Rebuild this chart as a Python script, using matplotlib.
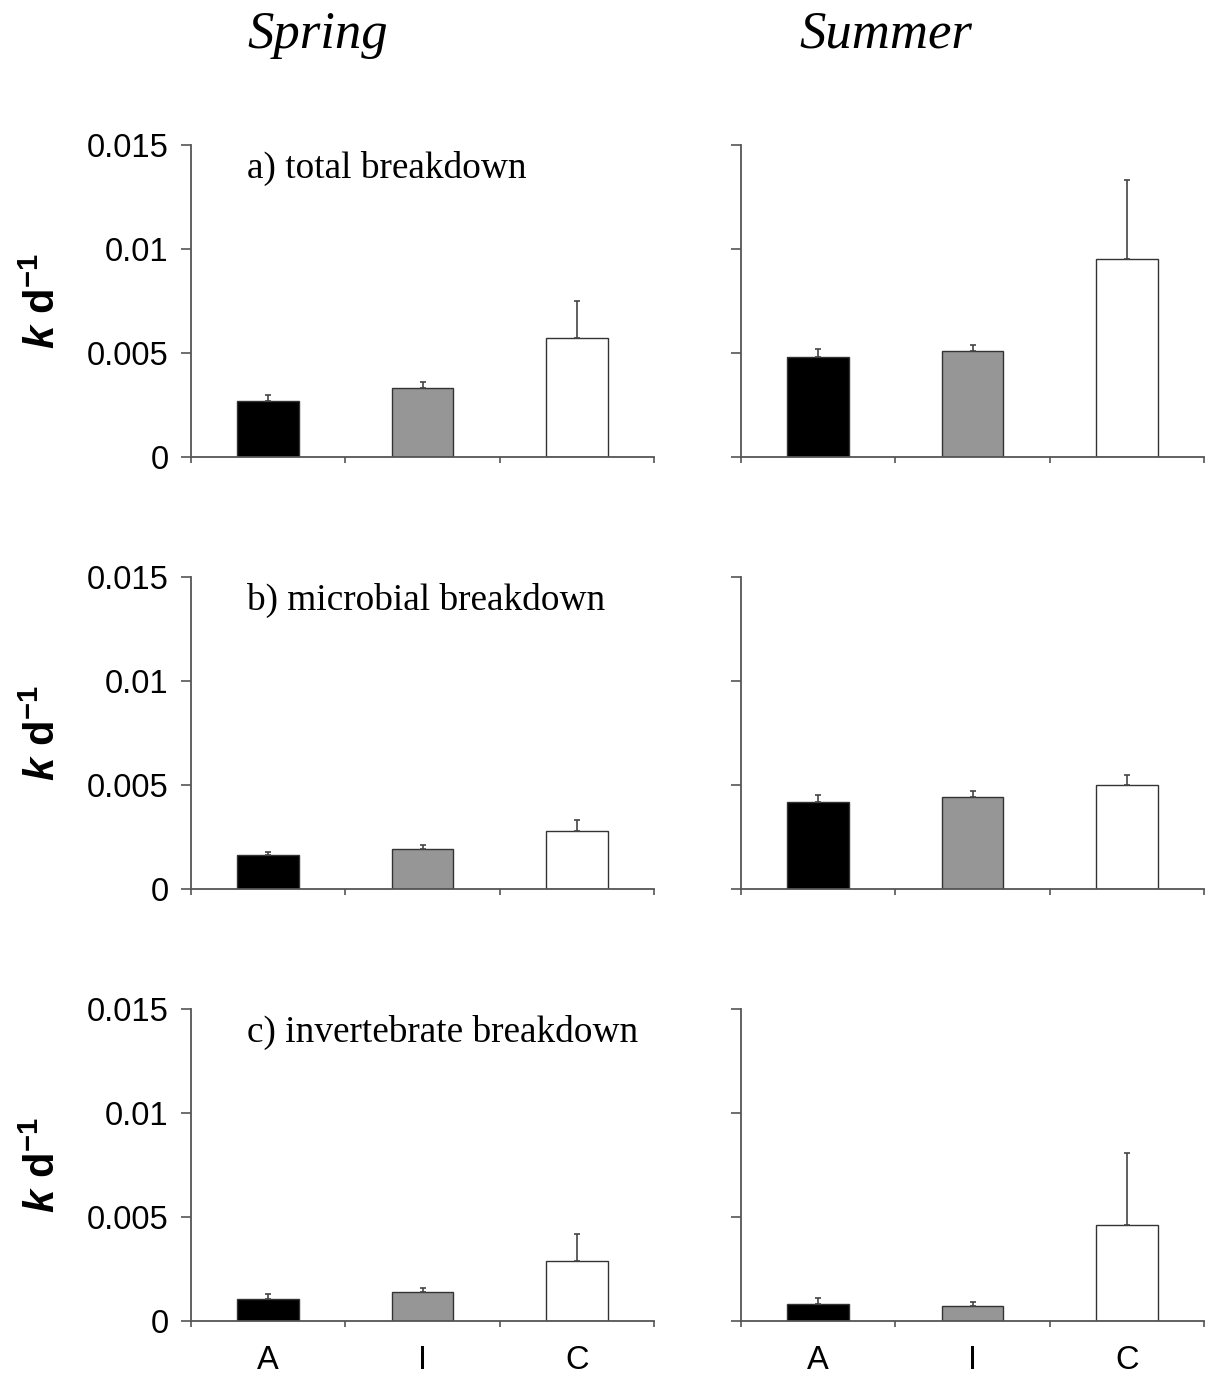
import numpy as np
import matplotlib
matplotlib.use("Agg")
import matplotlib.pyplot as plt

plt.rcParams['font.family'] = ['Liberation Sans', 'DejaVu Sans']
plt.rcParams['mathtext.fontset'] = 'custom'
plt.rcParams['mathtext.rm'] = 'Liberation Sans:bold'
plt.rcParams['mathtext.bf'] = 'Liberation Sans:bold'
plt.rcParams['mathtext.it'] = 'Liberation Sans:italic:bold'

# breakdown rate k (per day), mean and one-sided SE, sites A / I / C
sites = ['A', 'I', 'C']
seasons = ['Spring', 'Summer']
panel_labels = ['a) total breakdown', 'b) microbial breakdown', 'c) invertebrate breakdown']

total_spring = [0.0027, 0.0033, 0.0057]
total_spring_se = [0.0003, 0.0003, 0.0018]
total_summer = [0.0048, 0.0051, 0.0095]
total_summer_se = [0.0004, 0.0003, 0.0038]

micro_spring = [0.00165, 0.0019, 0.0028]
micro_spring_se = [0.00015, 0.0002, 0.0005]
micro_summer = [0.0042, 0.0044, 0.0050]
micro_summer_se = [0.0003, 0.0003, 0.0005]

invert_spring = [0.00105, 0.0014, 0.0029]
invert_spring_se = [0.00025, 0.0002, 0.0013]
invert_summer = [0.0008, 0.0007, 0.0046]
invert_summer_se = [0.0003, 0.0002, 0.0035]

yticks = [0, 0.005, 0.01, 0.015]
ytick_labels = ['0', '0.005', '0.01', '0.015']
bar_colors = ['black', '#969696', 'white']

rows = [
    [(total_spring, total_spring_se), (total_summer, total_summer_se)],
    [(micro_spring, micro_spring_se), (micro_summer, micro_summer_se)],
    [(invert_spring, invert_spring_se), (invert_summer, invert_summer_se)],
]

W, H = 1206, 1378
fig = plt.figure(figsize=(W / 100, H / 100), dpi=100)

col_left = [191, 741]
row_top = [145, 577, 1009]
ax_w, ax_h = 463, 312
spine_col = '#555555'

for r in range(3):
    for c in range(2):
        ax = fig.add_axes([col_left[c] / W, 1 - (row_top[r] + ax_h) / H, ax_w / W, ax_h / H])
        means, se = rows[r][c]
        x = np.arange(len(sites)) + 0.5
        ax.bar(x, means, width=0.4, color=bar_colors, edgecolor='#333333', linewidth=1.0, zorder=2)
        ax.errorbar(x, means, yerr=[np.zeros(len(se)), se], fmt='none', ecolor='#444444',
                    elinewidth=1.2, capsize=2.5, capthick=1.2, zorder=3)
        ax.set_xlim(0, 3)
        ax.set_ylim(0, 0.015)
        for s in ['top', 'right']:
            ax.spines[s].set_visible(False)
        for s in ['left', 'bottom']:
            ax.spines[s].set_color(spine_col)
            ax.spines[s].set_linewidth(1.3)
        ax.set_xticks([0, 1, 2, 3])
        ax.set_xticklabels([])
        ax.tick_params(axis='x', which='major', direction='out', length=4, width=1.2, color=spine_col)
        ax.set_yticks(yticks)
        ax.tick_params(axis='y', direction='out', length=7, width=1.2, color=spine_col,
                       labelsize=23.5, pad=9)
        if c == 0:
            ax.set_yticklabels(ytick_labels)
            ax.text(0.121, 0.925, panel_labels[r], transform=ax.transAxes,
                    family='Liberation Serif', fontsize=26.8, va='center', ha='left')
        else:
            ax.set_yticklabels([])
        if r == 2:
            ax.set_xticks(x, minor=True)
            ax.set_xticklabels(sites, minor=True)
            ax.tick_params(axis='x', which='minor', length=0, labelsize=23.5, pad=17)
        # y axis label
        if c == 0:
            fig.text(44 / W, 1 - (row_top[r] + ax_h / 2) / H, r'$\mathit{k}\ \mathrm{d}^{\mathrm{-1}}$',
                     rotation=90, ha='center', va='center', fontsize=30)

fig.text(318 / W, 1 - 35 / H, seasons[0], family='Liberation Serif', style='italic',
         fontsize=38, ha='center', va='center')
fig.text(886 / W, 1 - 35 / H, seasons[1], family='Liberation Serif', style='italic',
         fontsize=38, ha='center', va='center')

fig.savefig('out.png', dpi=100)
